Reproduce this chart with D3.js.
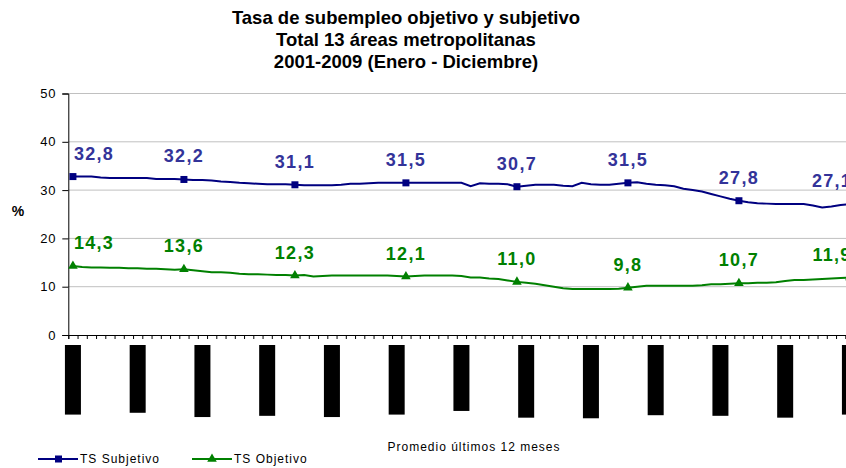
<!DOCTYPE html>
<html>
<head>
<meta charset="utf-8">
<script src="https://cdn.jsdelivr.net/npm/d3@7"></script>
<style>
  body { margin: 0; background: #fff; }
  svg { display: block; font-family: Arial, "Liberation Sans", sans-serif; }
</style>
</head>
<body>
<script>
// monthly 12-month moving averages, Ene01-Dic01 onwards (only the visible part of the chart)
const subjetivo = [
  32.8, 32.8, 32.8, 32.6, 32.5, 32.5, 32.5, 32.5, 32.5, 32.3, 32.3, 32.3,
  32.2, 32.1, 32.1, 32.0, 31.8, 31.7, 31.5, 31.4, 31.3, 31.2, 31.2, 31.2,
  31.1, 31.0, 31.0, 31.0, 31.0, 31.1, 31.3, 31.3, 31.4, 31.5, 31.5, 31.5,
  31.5, 31.5, 31.5, 31.5, 31.5, 31.5, 31.5, 30.8, 31.4, 31.3, 31.3, 31.2,
  30.7, 30.9, 31.1, 31.1, 31.1, 30.9, 30.8, 31.5, 31.2, 31.1, 31.1, 31.3,
  31.5, 31.6, 31.3, 31.1, 31.0, 30.8, 30.3, 30.0, 29.7, 29.2, 28.7, 28.2,
  27.8, 27.5, 27.3, 27.2, 27.1, 27.1, 27.1, 27.1, 26.8, 26.4, 26.6, 26.9,
  27.1
];
const objetivo = [
  14.3, 14.1, 14.0, 14.0, 13.9, 13.9, 13.8, 13.8, 13.7, 13.7, 13.6, 13.5,
  13.6, 13.4, 13.2, 13.0, 13.0, 12.9, 12.7, 12.6, 12.6, 12.5, 12.4, 12.4,
  12.3, 12.4, 12.1, 12.2, 12.3, 12.3, 12.3, 12.3, 12.3, 12.3, 12.3, 12.2,
  12.1, 12.2, 12.3, 12.3, 12.3, 12.3, 12.2, 11.9, 11.9, 11.7, 11.6, 11.3,
  11.0, 10.8, 10.6, 10.3, 10.0, 9.7, 9.5, 9.5, 9.5, 9.5, 9.5, 9.6,
  9.8, 10.0, 10.2, 10.2, 10.2, 10.2, 10.2, 10.2, 10.3, 10.5, 10.5, 10.6,
  10.7, 10.7, 10.8, 10.8, 10.9, 11.2, 11.4, 11.4, 11.5, 11.6, 11.7, 11.8,
  11.9
];
const meses = ["Ene","Feb","Mar","Abr","May","Jun","Jul","Ago","Sep","Oct","Nov","Dic"];
const firstYear = 2001;
const nPeriods = 97;              // Ene01-Dic01 ... Ene09-Dic09
const yTicks = [0, 10, 20, 30, 40, 50];
const titleLines = [
  "Tasa de subempleo objetivo y subjetivo",
  "Total 13 áreas metropolitanas",
  "2001-2009 (Enero - Diciembre)"
];

const yy = n => String(n % 100).padStart(2, "0");
const periods = d3.range(nPeriods).map(i => {
  const m1 = i % 12, y1 = firstYear + Math.floor(i / 12);
  const m2 = (i + 11) % 12, y2 = firstYear + Math.floor((i + 11) / 12);
  return `${meses[m1]}${yy(y1)}-${meses[m2]}${yy(y2)}`;
});

const width = 846, height = 468;
const left = 68.3, step = 9.25;
const blue = "#000080", blueLbl = "#333399", green = "#008000";

const svg = d3.select("body").append("svg")
  .attr("width", width)
  .attr("height", height);

const x = d3.scaleLinear().domain([0, nPeriods]).range([left, left + nPeriods * step]);
const y = d3.scaleLinear().domain([0, 50]).range([335, 93.5]);
const cx = i => x(i + 0.5);
const fmt = v => d3.format(".1f")(v).replace(".", ",");

// title
svg.append("g").selectAll("text")
  .data(titleLines)
  .enter().append("text")
  .attr("x", 406)
  .attr("y", (d, i) => 24 + i * 22)
  .attr("text-anchor", "middle")
  .style("font-size", "18.5px")
  .style("font-weight", "bold")
  .text(d => d);

// gridlines
svg.append("g").selectAll("line")
  .data(yTicks.filter(d => d > 0))
  .enter().append("line")
  .attr("x1", left).attr("x2", width)
  .attr("y1", d => y(d)).attr("y2", d => y(d))
  .attr("stroke", "#c0c0c0")
  .attr("stroke-width", 1);

// y axis
const yAxis = svg.append("g")
  .attr("transform", `translate(${left},0)`)
  .call(d3.axisLeft(y).tickValues(yTicks).tickSize(6).tickPadding(6));
yAxis.select(".domain").attr("stroke", "#000");
yAxis.selectAll("text")
  .style("font-size", "13px")
  .style("letter-spacing", "0.8px")
  .attr("fill", "#000");

svg.append("text")
  .attr("x", 18).attr("y", 216)
  .attr("text-anchor", "middle")
  .style("font-size", "14px")
  .style("font-weight", "bold")
  .text("%");

// x axis: ticks between categories
const xAxis = svg.append("g")
  .attr("transform", `translate(0,${y(0)})`)
  .call(d3.axisBottom(x).tickValues(d3.range(0, nPeriods + 1)).tickSize(4).tickFormat(""));
xAxis.select(".domain").attr("stroke", "#000");

// category labels (every 7th period), drawn as the solid black blocks seen in the picture
const labelIdx = d3.range(0, nPeriods, 7);
const lab = svg.append("g").attr("class", "cat-labels");
labelIdx.forEach(i => {
  const g = lab.append("g").attr("transform", `translate(${cx(i)},345) rotate(-90)`);
  const t = g.append("text")
    .attr("x", -4).attr("y", 4)
    .attr("text-anchor", "end")
    .style("font-size", "11px")
    .attr("fill", "#000")
    .text(periods[i]);
  const bb = t.node().getBBox();
  g.insert("rect", "text")
    .attr("x", bb.x - 2)
    .attr("y", -8)
    .attr("width", bb.width + 6)
    .attr("height", 16)
    .attr("fill", "#000");
});

// lines
const line = d3.line().x((d, i) => cx(i)).y(d => y(d)).curve(d3.curveLinear);
svg.append("path").datum(subjetivo)
  .attr("d", line).attr("fill", "none")
  .attr("stroke", blue).attr("stroke-width", 2);
svg.append("path").datum(objetivo)
  .attr("d", line).attr("fill", "none")
  .attr("stroke", green).attr("stroke-width", 2);

// yearly markers
const yearly = d3.range(0, subjetivo.length, 12);
svg.append("g").selectAll("rect")
  .data(yearly)
  .enter().append("rect")
  .attr("x", i => cx(i) - 3.5).attr("y", i => y(subjetivo[i]) - 3.5)
  .attr("width", 7).attr("height", 7)
  .attr("fill", blue);
const tri = d3.symbol().type(d3.symbolTriangle).size(40);
svg.append("g").selectAll("path")
  .data(yearly)
  .enter().append("path")
  .attr("d", tri)
  .attr("transform", i => `translate(${cx(i)},${y(objetivo[i])})`)
  .attr("fill", green);

// data labels
const labX = i => Math.max(94, Math.min(cx(i), 832));
[[subjetivo, blueLbl], [objetivo, green]].forEach(([s, c]) => {
  svg.append("g").selectAll("text")
    .data(yearly)
    .enter().append("text")
    .attr("x", i => labX(i))
    .attr("y", i => y(s[i]) - 17)
    .attr("text-anchor", "middle")
    .style("font-size", "18px")
    .style("font-weight", "bold")
    .style("letter-spacing", "1.3px")
    .attr("fill", c)
    .text(i => fmt(s[i]));
});

// axis title
svg.append("text")
  .attr("x", 474).attr("y", 451)
  .attr("text-anchor", "middle")
  .style("font-size", "12px")
  .style("letter-spacing", "1px")
  .text("Promedio últimos 12 meses");

// legend
const legend = svg.append("g").attr("id", "legend");
const items = [
  {name: "TS Subjetivo", color: blue, sym: "square", x: 38},
  {name: "TS Objetivo", color: green, sym: "tri", x: 192}
];
items.forEach(d => {
  const g = legend.append("g").attr("transform", `translate(${d.x},459)`);
  g.append("line").attr("x1", 0).attr("x2", 40).attr("y1", 0).attr("y2", 0)
    .attr("stroke", d.color).attr("stroke-width", 2);
  if (d.sym === "square") {
    g.append("rect").attr("x", 17).attr("y", -3.5).attr("width", 7).attr("height", 7).attr("fill", d.color);
  } else {
    g.append("path").attr("d", tri).attr("transform", "translate(20,0)").attr("fill", d.color);
  }
  g.append("text")
    .attr("x", 42).attr("y", 4)
    .style("font-size", "12px")
    .style("letter-spacing", "1px")
    .text(d.name);
});
</script>
</body>
</html>
